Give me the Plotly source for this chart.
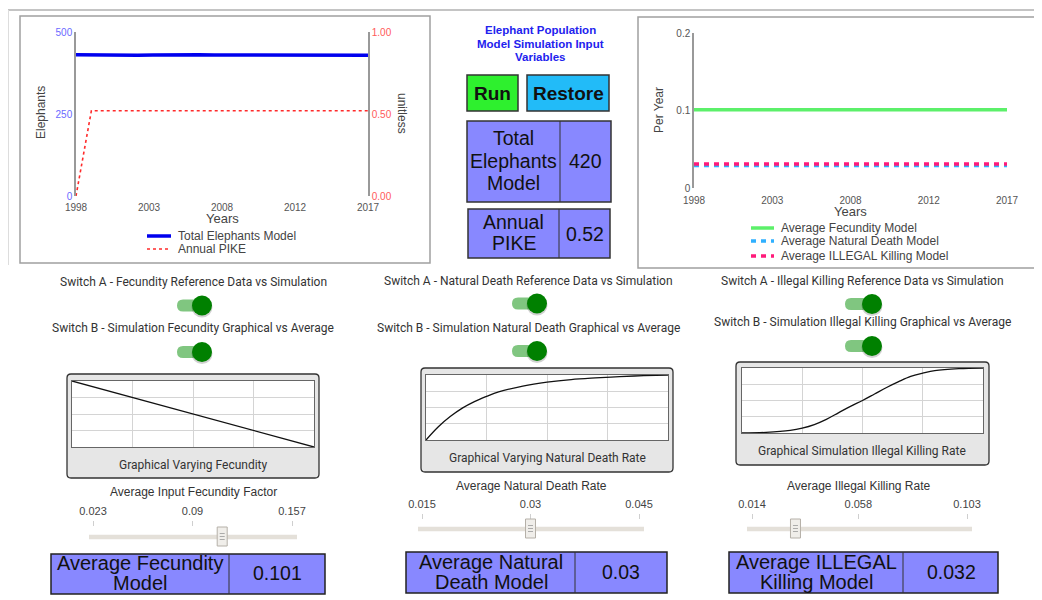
import plotly.graph_objects as go

# ---------------- DATA ----------------
years = [1998, 1999, 2000, 2001, 2002, 2003, 2004, 2005, 2006, 2007,
         2008, 2009, 2010, 2011, 2012, 2013, 2014, 2015, 2016, 2017]
total_elephants = [431, 430, 429, 428, 429, 430, 431, 431, 431, 430,
                   430, 429, 428, 428, 428, 429, 429, 429, 429, 429]
annual_pike = [0.0, 0.52, 0.52, 0.52, 0.52, 0.52, 0.52, 0.52, 0.52, 0.52,
               0.52, 0.52, 0.52, 0.52, 0.52, 0.52, 0.52, 0.52, 0.52, 0.52]
avg_fecundity = [0.101, 0.101, 0.101, 0.101, 0.101, 0.101, 0.101, 0.101, 0.101, 0.101,
                 0.101, 0.101, 0.101, 0.101, 0.101, 0.101, 0.101, 0.101, 0.101, 0.101]
avg_natural_death = [0.029, 0.029, 0.029, 0.029, 0.029, 0.029, 0.029, 0.029, 0.029, 0.029,
                     0.029, 0.029, 0.029, 0.029, 0.029, 0.029, 0.029, 0.029, 0.029, 0.029]
avg_illegal_killing = [0.031, 0.031, 0.031, 0.031, 0.031, 0.031, 0.031, 0.031, 0.031, 0.031,
                       0.031, 0.031, 0.031, 0.031, 0.031, 0.031, 0.031, 0.031, 0.031, 0.031]

year_tickvals = [1998, 2002.75, 2007.5, 2012.25, 2017]
year_ticktext = ["1998", "2003", "2008", "2012", "2017"]

# graphical functions (normalised)
fec_x = [0.0, 0.25, 0.5, 0.75, 1.0]
fec_y = [1.0, 0.75, 0.5, 0.25, 0.0]
nd_x = [0.0, 0.05, 0.1, 0.15, 0.2, 0.25, 0.3, 0.4, 0.5, 0.6, 0.7, 0.8, 0.9, 1.0]
nd_y = [0.0, 0.2, 0.36, 0.49, 0.59, 0.67, 0.74, 0.83, 0.89, 0.93, 0.955, 0.975, 0.99, 1.0]
ik_x = [0.0, 0.1, 0.2, 0.25, 0.3, 0.35, 0.4, 0.45, 0.5, 0.55, 0.6, 0.65, 0.7, 0.75, 0.8, 0.9, 1.0]
ik_y = [0.0, 0.01, 0.04, 0.075, 0.13, 0.21, 0.31, 0.41, 0.5, 0.6, 0.7, 0.79, 0.87, 0.92, 0.96, 0.99, 1.0]

# sliders
fec_slider_ticks = [0.023, 0.09, 0.157]
fec_slider_value = 0.11
nd_slider_ticks = [0.015, 0.03, 0.045]
nd_slider_value = 0.03
ik_slider_ticks = [0.014, 0.058, 0.103]
ik_slider_value = 0.032

# displayed values
total_elephants_value = "420"
annual_pike_value = "0.52"
fecundity_value = "0.101"
natural_death_value = "0.03"
illegal_killing_value = "0.032"

# ---------------- HELPERS ----------------
W, H = 1042, 600          # window size
OX, OY = 8, 8             # page body margin
FW, FH = W - OX, H - OY   # figure size so that it fills the window exactly


def fx(x):
    return (x - OX) / FW


def fy(y):
    return 1 - (y - OY) / FH


def dx(a, b):
    return [fx(a), fx(b)]


def dy(top, bottom):
    return [fy(bottom), fy(top)]


shapes = []
annotations = []
ARIAL = "Liberation Sans, Arial, sans-serif"
ROBOTO = "Roboto, sans-serif"


def text(x, y, t, size=12, color="#333", family=ARIAL, xanchor="center", angle=0, bold=False):
    if bold:
        t = "<b>" + t + "</b>"
    annotations.append(dict(x=fx(x), y=fy(y), xref="paper", yref="paper", text=t, showarrow=False,
                            xanchor=xanchor, yanchor="middle", textangle=angle,
                            font=dict(size=size, color=color, family=family)))


def rect(x0, y0, x1, y1, fill="rgba(0,0,0,0)", line="#999", width=1, layer="below"):
    shapes.append(dict(type="rect", xref="paper", yref="paper", x0=fx(x0), x1=fx(x1), y0=fy(y1), y1=fy(y0),
                       fillcolor=fill, line=dict(color=line, width=width), layer=layer))


def line(x0, y0, x1, y1, color="#999", width=1, dash="solid", layer="below"):
    shapes.append(dict(type="line", xref="paper", yref="paper", x0=fx(x0), x1=fx(x1), y0=fy(y0), y1=fy(y1),
                       line=dict(color=color, width=width, dash=dash), layer=layer))


def rrect(x0, y0, x1, y1, r, fill, line_color, width=1, layer="below"):
    p = (f"M {fx(x0 + r)},{fy(y0)} L {fx(x1 - r)},{fy(y0)} Q {fx(x1)},{fy(y0)} {fx(x1)},{fy(y0 + r)} "
         f"L {fx(x1)},{fy(y1 - r)} Q {fx(x1)},{fy(y1)} {fx(x1 - r)},{fy(y1)} "
         f"L {fx(x0 + r)},{fy(y1)} Q {fx(x0)},{fy(y1)} {fx(x0)},{fy(y1 - r)} "
         f"L {fx(x0)},{fy(y0 + r)} Q {fx(x0)},{fy(y0)} {fx(x0 + r)},{fy(y0)} Z")
    shapes.append(dict(type="path", xref="paper", yref="paper", path=p, fillcolor=fill,
                       line=dict(color=line_color, width=width), layer=layer))


def circle(cx, cy, r, fill, line_color="rgba(0,0,0,0)", layer="above"):
    shapes.append(dict(type="circle", xref="paper", yref="paper", x0=fx(cx - r), x1=fx(cx + r),
                       y0=fy(cy + r), y1=fy(cy - r), fillcolor=fill, line=dict(color=line_color, width=0),
                       layer=layer))


def toggle(x_left, knob_cx, cy):
    rrect(x_left, cy - 6, knob_cx + 5, cy + 6, 6, "#80c680", "rgba(0,0,0,0)", 0, layer="above")
    circle(knob_cx, cy + 1.5, 10.5, "rgba(0,0,0,0.18)")
    circle(knob_cx, cy, 10, "#008000")


fig = go.Figure()

# ---------------- FRAME / PANELS ----------------
line(8, 10, W, 10, "#b0b0b0", 1.5)
line(8.5, 10, 8.5, 265, "#dddddd", 1)
rect(20, 16, 430, 263, "white", "#a0a0a0", 1.5)
rect(638, 17, 1035, 268, "white", "#a0a0a0", 1.5)

# ---------------- LEFT CHART ----------------
fig.add_trace(go.Scatter(x=years, y=total_elephants, mode="lines", name="Total Elephants Model",
                         line=dict(color="#0000ee", width=3.5), xaxis="x", yaxis="y", showlegend=False))
fig.add_trace(go.Scatter(x=years, y=annual_pike, mode="lines", name="Annual PIKE",
                         line=dict(color="#ff2a2a", width=1.6, dash="dot"), xaxis="x", yaxis="y2",
                         showlegend=False))

text(41, 113, "Elephants", 12, "#444", angle=-90)
text(402, 113, "unitless", 12, "#444", angle=90)
text(222, 219, "Years", 13, "#444")
# legend
line(147, 236, 171, 236, "#0000ee", 3.5, layer="above")
line(147, 249, 171, 249, "#ff2a2a", 1.6, "dot", layer="above")
text(176, 236, "Total Elephants Model", 12, "#444", xanchor="left")
text(176, 249, "Annual PIKE", 12, "#444", xanchor="left")

# ---------------- RIGHT CHART ----------------
fig.add_trace(go.Scatter(x=years, y=avg_fecundity, mode="lines", name="Average Fecundity Model",
                         line=dict(color="#5cf06a", width=3.5), xaxis="x3", yaxis="y3", showlegend=False))
fig.add_trace(go.Scatter(x=years, y=avg_natural_death, mode="lines", name="Average Natural Death Model",
                         line=dict(color="#2fb0ff", width=3.5, dash="5px,5px"), xaxis="x3", yaxis="y3",
                         showlegend=False))
fig.add_trace(go.Scatter(x=years, y=avg_illegal_killing, mode="lines", name="Average ILLEGAL Killing Model",
                         line=dict(color="#ff1a7a", width=3.5, dash="5px,5px"), xaxis="x3", yaxis="y3",
                         showlegend=False))
text(659, 110, "Per Year", 12, "#444", angle=-90)
text(850, 212, "Years", 13, "#444")
line(751, 228, 774, 228, "#5cf06a", 3.5, layer="above")
line(751, 241, 774, 241, "#2fb0ff", 3.5, "5px,5px", layer="above")
line(751, 256, 774, 256, "#ff1a7a", 3.5, "5px,5px", layer="above")
text(779, 228, "Average Fecundity Model", 12, "#444", xanchor="left")
text(779, 241, "Average Natural Death Model", 12, "#444", xanchor="left")
text(779, 256, "Average ILLEGAL Killing Model", 12, "#444", xanchor="left")

# ---------------- MIDDLE COLUMN ----------------
text(540, 30, "Elephant Population", 11.5, "#2222ee", bold=True)
text(540, 43.5, "Model Simulation Input", 11.5, "#2222ee", bold=True)
text(540, 57, "Variables", 11.5, "#2222ee", bold=True)

rect(467, 75, 518, 111, "#2ef02e", "#333", 1.5)
text(492.5, 93, "Run", 19, "#111", bold=True)
rect(527, 75, 609, 111, "#22bbf8", "#333", 1.5)
text(568, 93, "Restore", 19, "#111", bold=True)

BOX = "#8888ff"
rect(467, 121, 611, 202, BOX, "#333", 1.5)
line(560, 121, 560, 202, "#333", 1)
text(513.5, 138, "Total", 19.5, "#111")
text(513.5, 161, "Elephants", 19.5, "#111")
text(513.5, 183, "Model", 19.5, "#111")
text(585.5, 161, total_elephants_value, 19.5, "#111")

rect(468, 209, 610, 258, BOX, "#333", 1.5)
line(559, 209, 559, 258, "#333", 1)
text(513.5, 222, "Annual", 19.5, "#111")
text(513.5, 243, "PIKE", 19.5, "#111")
text(584.5, 234, annual_pike_value, 19.5, "#111")

# ---------------- BOTTOM COLUMNS ----------------
# column 1
text(193, 282, "Switch A - Fecundity Reference Data vs Simulation", 12, "#333", ROBOTO)
toggle(177, 202, 305.5)
text(193, 328, "Switch B - Simulation Fecundity Graphical vs Average", 12, "#333", ROBOTO)
toggle(177, 202, 352)
rrect(67, 374, 319, 478, 4, "#e6e6e6", "#333", 1.3)
rect(72, 381, 314, 447, "white", "rgba(0,0,0,0)", 0)
text(193, 465, "Graphical Varying Fecundity", 12, "#333", ROBOTO)
text(193, 492, "Average Input Fecundity Factor", 12, "#333")
rect(51, 554, 325, 594, BOX, "#222", 1.5)
line(229, 554, 229, 594, "#333", 1)
text(140, 563, "Average Fecundity", 20, "#111")
text(140, 583, "Model", 20, "#111")
text(277, 573, fecundity_value, 19.5, "#111")

# column 2
text(528, 281, "Switch A - Natural Death Reference Data vs Simulation", 12, "#333", ROBOTO)
toggle(512, 537, 303.5)
text(528, 328, "Switch B - Simulation Natural Death Graphical vs Average", 12, "#333", ROBOTO)
toggle(512, 537, 351)
rrect(421, 368, 673, 472, 4, "#e6e6e6", "#333", 1.3)
rect(426, 375, 668, 440, "white", "rgba(0,0,0,0)", 0)
text(547, 458, "Graphical Varying Natural Death Rate", 12, "#333", ROBOTO)
text(531, 486, "Average Natural Death Rate", 12, "#333")
rect(406, 552, 667, 593, BOX, "#222", 1.5)
line(575, 552, 575, 593, "#333", 1)
text(491, 562, "Average Natural", 20, "#111")
text(491, 582, "Death Model", 20, "#111")
text(621, 572, natural_death_value, 19.5, "#111")

# column 3
text(862, 281, "Switch A - Illegal Killing Reference Data vs Simulation", 12, "#333", ROBOTO)
toggle(845, 872, 304)
text(862, 322, "Switch B - Simulation Illegal Killing Graphical vs Average", 12, "#333", ROBOTO)
toggle(845, 872, 346)
rrect(736, 362, 989, 465, 4, "#e6e6e6", "#333", 1.3)
rect(742, 368, 983, 433, "white", "rgba(0,0,0,0)", 0)
text(862, 451, "Graphical Simulation Illegal Killing Rate", 12, "#333", ROBOTO)
text(859, 486, "Average Illegal Killing Rate", 12, "#333")
rect(729, 552, 998, 593, BOX, "#222", 1.5)
line(903, 552, 903, 593, "#333", 1)
text(816, 562, "Average ILLEGAL", 20, "#111")
text(816, 582, "Killing Model", 20, "#111")
text(951, 572, illegal_killing_value, 19.5, "#111")

# graphical function traces
fig.add_trace(go.Scatter(x=fec_x, y=fec_y, mode="lines", line=dict(color="#111", width=1.3),
                         xaxis="x4", yaxis="y4", showlegend=False))
fig.add_trace(go.Scatter(x=nd_x, y=nd_y, mode="lines", line=dict(color="#111", width=1.3, shape="spline"),
                         xaxis="x5", yaxis="y5", showlegend=False))
fig.add_trace(go.Scatter(x=ik_x, y=ik_y, mode="lines", line=dict(color="#111", width=1.3, shape="spline"),
                         xaxis="x6", yaxis="y6", showlegend=False))

# sliders: (axis id, ticks, value, track px left/right, tick px left/right, axis top y, track y, handle y0/y1)
sliders = [
    ("7", fec_slider_ticks, fec_slider_value, 89, 297, 93, 292, 527, 537, 527, 546),
    ("8", nd_slider_ticks, nd_slider_value, 418, 644, 422, 639, 520, 529, 519, 538),
    ("9", ik_slider_ticks, ik_slider_value, 747, 972, 752, 967, 520, 529, 519, 538),
]

layout_axes = {}
for sid, ticks, val, tl, tr, kl, kr, top, ty, hy0, hy1 in sliders:
    per_px = (ticks[-1] - ticks[0]) / (kr - kl)
    rng = [ticks[0] - (kl - tl) * per_px, ticks[-1] + (tr - kr) * per_px]
    layout_axes["xaxis" + sid] = dict(domain=dx(tl, tr), range=rng, anchor="y" + sid, side="top",
                                      tickvals=ticks, ticktext=[str(t) for t in ticks], ticks="outside",
                                      ticklen=5, tickcolor="#cfcfcf", tickwidth=1, showline=False,
                                      showgrid=False, zeroline=False, ticklabelstandoff=2, automargin=False,
                                      tickfont=dict(size=11, color="#444", family=ARIAL), fixedrange=True)
    layout_axes["yaxis" + sid] = dict(domain=dy(top, top + 20), range=[0, 1], anchor="x" + sid,
                                      visible=False, fixedrange=True, automargin=False)
    # track
    shapes.append(dict(type="line", xref="x" + sid, yref="paper", x0=rng[0], x1=rng[1], y0=fy(ty), y1=fy(ty),
                       line=dict(color="#e4e0d9", width=4.5), layer="above"))
    # handle
    shapes.append(dict(type="rect", xref="x" + sid, yref="paper", xsizemode="pixel", xanchor=val,
                       x0=-5, x1=5, y0=fy(hy1), y1=fy(hy0), fillcolor="#f0eeea",
                       line=dict(color="#b5b0a8", width=1), layer="above"))
    for k in (-3, 0, 3):
        gy = (hy0 + hy1) / 2 + k
        shapes.append(dict(type="line", xref="x" + sid, yref="paper", xsizemode="pixel", xanchor=val,
                           x0=-2.5, x1=2.5, y0=fy(gy), y1=fy(gy), line=dict(color="#999", width=0.8),
                           layer="above"))

small_axis = dict(range=[0, 1], showgrid=True, gridcolor="#d4d4d4", gridwidth=1, dtick=0.25, tick0=0,
                  showticklabels=False, ticks="", zeroline=False, showline=True, mirror=True,
                  linecolor="#666", linewidth=1, fixedrange=True, automargin=False)

fig.update_layout(
    width=FW, height=FH, margin=dict(l=0, r=0, t=0, b=0, pad=0, autoexpand=False),
    paper_bgcolor="white", plot_bgcolor="rgba(0,0,0,0)",
    showlegend=False,
    xaxis=dict(domain=dx(76, 368), range=[1998, 2017], tickvals=year_tickvals, ticktext=year_ticktext,
               showgrid=False, zeroline=False, showline=False, ticks="", anchor="y", automargin=False,
               ticklabelstandoff=4, tickfont=dict(size=10, color="#555", family=ARIAL)),
    yaxis=dict(domain=dy(32, 196), range=[0, 500], tickvals=[0, 250, 500], showgrid=False, zeroline=False,
               showline=True, linecolor="#999", linewidth=1.5, ticks="", anchor="x", automargin=False,
               tickfont=dict(size=10, color="#6a6aff", family=ARIAL)),
    yaxis2=dict(range=[0, 1], tickvals=[0, 0.5, 1], ticktext=["0.00", "0.50", "1.00"], overlaying="y",
                side="right", anchor="x", showgrid=False, zeroline=False, showline=True, linecolor="#999",
                linewidth=1.5, ticks="", automargin=False, tickfont=dict(size=10, color="#ff5a5a", family=ARIAL)),
    xaxis3=dict(domain=dx(694, 1007), range=[1998, 2017], tickvals=year_tickvals, ticktext=year_ticktext,
                showgrid=False, zeroline=False, showline=False, ticks="", anchor="y3", automargin=False,
                ticklabelstandoff=5, tickfont=dict(size=10, color="#555", family=ARIAL)),
    yaxis3=dict(domain=dy(33, 188), range=[0, 0.2], tickvals=[0, 0.1, 0.2], ticktext=["0", "0.1", "0.2"],
                showgrid=False, zeroline=False, showline=True, linecolor="#999", linewidth=1.5, ticks="",
                anchor="x3", automargin=False, tickfont=dict(size=10, color="#555", family=ARIAL)),
    xaxis4=dict(domain=dx(72, 314), anchor="y4", **small_axis),
    yaxis4=dict(domain=dy(381, 447), anchor="x4", **small_axis),
    xaxis5=dict(domain=dx(426, 668), anchor="y5", **small_axis),
    yaxis5=dict(domain=dy(375, 440), anchor="x5", **small_axis),
    xaxis6=dict(domain=dx(742, 983), anchor="y6", **small_axis),
    yaxis6=dict(domain=dy(368, 433), anchor="x6", **small_axis),
    **layout_axes,
    shapes=shapes,
    annotations=annotations,
)

fig.write_html("out.html")
